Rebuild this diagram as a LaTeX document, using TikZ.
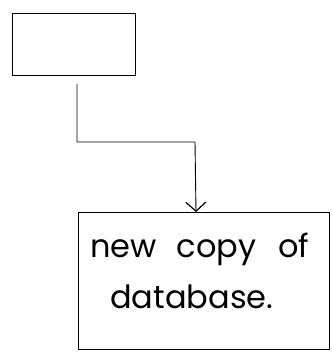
\documentclass[tikz,border=0pt]{standalone}
\usepackage{fontspec}
\setmainfont{Poppins}
\usetikzlibrary{arrows.meta}
\begin{document}
\begin{tikzpicture}[x=1pt,y=1pt,
  box/.style={draw=black,line width=1pt,inner sep=0pt},
  conn/.style={draw=black,line width=0.9pt},
  txt/.style={font=\fontsize{32}{51}\selectfont,align=left,anchor=base west,inner sep=0pt}]
\useasboundingbox (0,0) rectangle (332,-354);
\node[box,minimum width=123pt,minimum height=62pt,anchor=north west] (top) at (12,-13) {};
\node[box,minimum width=251pt,minimum height=137pt,anchor=north west] (bot) at (78,-212) {};
\node[txt] (t1) at (90,-257) {new\hspace{20pt}copy\hspace{22pt}of};
\node[txt] (t2) at (110,-308) {database.};
\coordinate (s) at (77,-84);
\coordinate (e) at (196,-212);
\draw[conn,-{Straight Barb[length=9pt,width=20pt,line width=1.2pt]}] (s) |- (195,-142) -- (e);
\end{tikzpicture}
\end{document}
